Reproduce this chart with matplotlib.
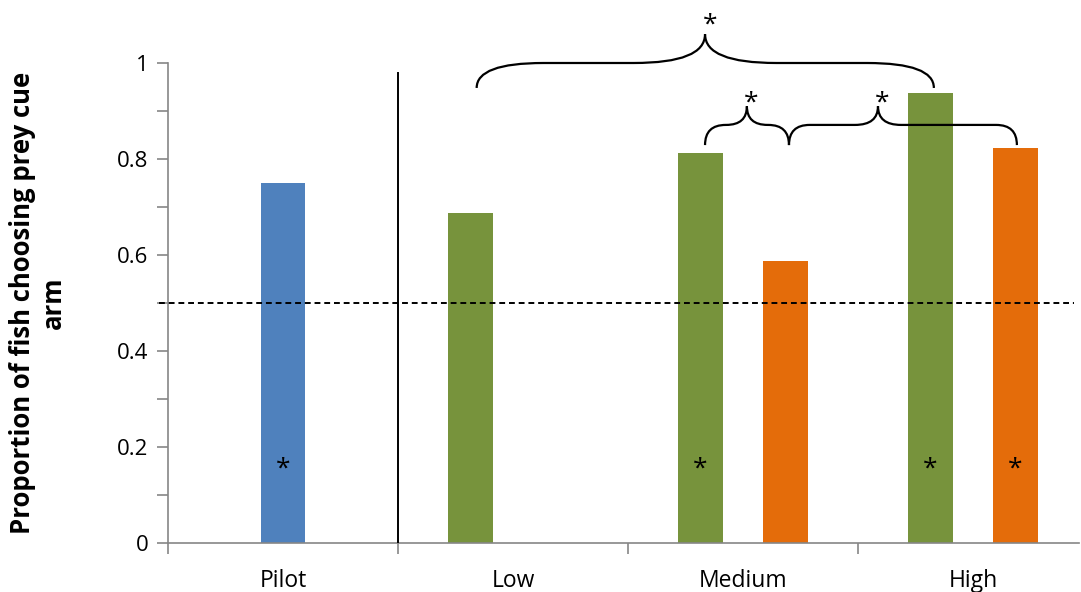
import numpy as np
import matplotlib.pyplot as plt
from matplotlib.path import Path
from matplotlib.patches import PathPatch
from matplotlib.ticker import MultipleLocator

plt.rcParams['font.family'] = ['Open Sans', 'DejaVu Sans']

# proportions per stimulus level
categories = ["Pilot", "Low", "Medium", "High"]
pilot_vals = [0.75, np.nan, np.nan, np.nan]
green_vals = [np.nan, 0.6875, 0.8125, 0.9375]
orange_vals = [np.nan, np.nan, 0.5882, 0.8235]
# which bars get a significance star
pilot_sig = [True, False, False, False]
green_sig = [False, False, True, True]
orange_sig = [False, False, False, True]

BLUE = "#4F81BD"
GREEN = "#77933C"
ORANGE = "#E46C0A"

fig = plt.figure(figsize=(10.81, 5.92), dpi=100)
ax = fig.add_axes([168 / 1081, 49 / 592, 911 / 1081, 480 / 592])

x = np.arange(len(categories))
off, w = 0.185, 0.195
ax.bar(x, pilot_vals, width=w, color=BLUE, zorder=2)
ax.bar(x - off, green_vals, width=w, color=GREEN, zorder=2)
ax.bar(x + off, orange_vals, width=w, color=ORANGE, zorder=2)

star_y = 0.155
for xs, sig in [(x, pilot_sig), (x - off, green_sig), (x + off, orange_sig)]:
    for xi, s in zip(xs, sig):
        if s:
            ax.text(xi, star_y, "*", ha="center", va="center", fontsize=19)

ax.set_xlim(-0.5, 3.461)
ax.set_ylim(0, 1)

# chance level and pilot separator
ax.axhline(0.5, xmin=-0.01, xmax=0.995, color="black", lw=1.4,
           ls=(0, (3, 2)), zorder=3, clip_on=False)
ax.plot([0.5, 0.5], [0, 0.98], color="black", lw=1.4, zorder=3)


def brace(x0, x1, xm, y0, yh, yp, r_end, r_mid, star_dy):
    verts = [(x0, y0), (x0, yh), (x0 + r_end, yh),
             (xm - r_mid, yh), (xm, yh), (xm, yp),
             (xm, yh), (xm + r_mid, yh),
             (x1 - r_end, yh), (x1, yh), (x1, y0)]
    codes = [Path.MOVETO, Path.CURVE3, Path.CURVE3,
             Path.LINETO, Path.CURVE3, Path.CURVE3,
             Path.CURVE3, Path.CURVE3,
             Path.LINETO, Path.CURVE3, Path.CURVE3]
    ax.add_patch(PathPatch(Path(verts, codes), fill=False, lw=1.6,
                           color="black", clip_on=False, zorder=4))
    ax.text(xm + 0.02, yp + star_dy, "*", ha="center", va="center",
            fontsize=19, clip_on=False)


brace(0.842, 2.83, 1.835, 0.948, 1.0, 1.06, 0.29, 0.31, 0.018)
brace(1.835, 2.2, 2.017, 0.829, 0.871, 0.91, 0.09, 0.09, 0.006)
brace(2.2, 3.191, 2.587, 0.829, 0.871, 0.91, 0.09, 0.1, 0.006)

# axes styling
for side in ["top", "right"]:
    ax.spines[side].set_visible(False)
for side in ["left", "bottom"]:
    ax.spines[side].set_color("#868686")
    ax.spines[side].set_linewidth(1.2)

ax.yaxis.set_major_locator(MultipleLocator(0.2))
ax.yaxis.set_minor_locator(MultipleLocator(0.1))
ax.set_yticks([0, 0.2, 0.4, 0.6, 0.8, 1.0], ["0", "0.2", "0.4", "0.6", "0.8", "1"])
ax.tick_params(axis="y", which="both", length=8, width=1.2, color="#868686",
               labelsize=16, pad=6)

ax.set_xticks([-0.5, 0.5, 1.5, 2.5])
ax.set_xticklabels([])
ax.set_xticks(x, categories, minor=True)
ax.tick_params(axis="x", which="major", length=8, width=1.2, color="#868686")
ax.tick_params(axis="x", which="minor", length=0, labelsize=16.5, pad=19)

ax.set_ylabel("Proportion of fish choosing prey cue\narm", fontsize=18.5,
              fontweight="bold", labelpad=36, linespacing=1.2)

fig.savefig("out.png", dpi=100)
